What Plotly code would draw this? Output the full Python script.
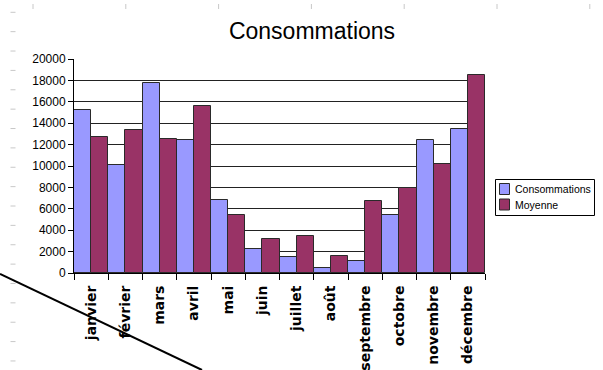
import plotly.graph_objects as go

# Monthly data
mois = ["janvier", "février", "mars", "avril", "mai", "juin", "juillet",
        "août", "septembre", "octobre", "novembre", "décembre"]
consommations = [15200, 10100, 17800, 12400, 6800, 2200, 1450, 500, 1150, 5400, 12450, 13500]
moyenne = [12750, 13400, 12550, 15600, 5400, 3200, 3500, 1550, 6750, 7950, 10200, 18500]
y_ticks = [0, 2000, 4000, 6000, 8000, 10000, 12000, 14000, 16000, 18000, 20000]

series_names = ["Consommations", "Moyenne"]
series_colors = ["#9999FF", "#993366"]
outline = "#2a2a2a"

W, H = 603, 370
ML, MR, MT, MB = 74, 118, 59, 97
PW, PH = W - ML - MR, H - MT - MB


def px(x):
    return (x - ML) / PW


def py(y):
    return (H - MB - y) / PH


fig = go.Figure()
for name, vals, col in zip(series_names, [consommations, moyenne], series_colors):
    fig.add_bar(x=mois, y=vals, name=name,
                marker=dict(color=col, line=dict(color=outline, width=1)))

# sheet decorations: ruler marks and a diagonal drawn line
shapes = []
for k in range(19):
    yy = 12.3 + 19.37 * k
    shapes.append(dict(type="line", xref="paper", yref="paper",
                       x0=px(10.5), x1=px(15.5), y0=py(yy), y1=py(yy),
                       line=dict(color="#c8c8c8", width=1)))
for k in range(7):
    xx = 33 + 92.8 * k
    shapes.append(dict(type="line", xref="paper", yref="paper",
                       x0=px(xx), x1=px(xx), y0=py(4), y1=py(9),
                       line=dict(color="#c8c8c8", width=1)))
shapes.append(dict(type="line", xref="paper", yref="paper", layer="above",
                   x0=px(0), y0=py(274), x1=px(202), y1=py(370),
                   line=dict(color="#000000", width=2)))

# legend box drawn beside the plot
annotations = []
shapes.append(dict(type="rect", xref="paper", yref="paper",
                   x0=px(495.5), x1=px(594.5), y0=py(179.5), y1=py(215.5),
                   line=dict(color="black", width=1), fillcolor="white"))
for i, (name, col) in enumerate(zip(series_names, series_colors)):
    top = 183.5 + 15.5 * i
    shapes.append(dict(type="rect", xref="paper", yref="paper",
                       x0=px(499.5), x1=px(509.5), y0=py(top), y1=py(top + 11),
                       line=dict(color=outline, width=1), fillcolor=col))
    annotations.append(dict(text=name, xref="paper", yref="paper",
                            x=px(513), y=py(top + 5.5), xanchor="left", yanchor="middle",
                            showarrow=False,
                            font=dict(family="Liberation Sans, Arial", size=10.5, color="black")))

fig.update_layout(
    width=W, height=H,
    margin=dict(l=ML, r=MR, t=MT, b=MB, pad=0, autoexpand=False),
    paper_bgcolor="white", plot_bgcolor="white",
    barmode="group", bargap=0, bargroupgap=0,
    title=dict(text="Consommations", x=312 / W, xanchor="center",
               y=1 - 31 / H, yanchor="middle", xref="container", yref="container",
               font=dict(family="Liberation Sans, Arial", size=23, color="black")),
    showlegend=False,
    shapes=shapes,
    annotations=annotations,
    xaxis=dict(type="category", showline=True, linecolor="black", linewidth=1,
               ticks="outside", tickson="boundaries", ticklen=6, tickcolor="black",
               tickangle=-90, showgrid=False, automargin=False, ticklabelstandoff=6,
               tickfont=dict(family="DejaVu Sans", size=14, color="black", weight="bold")),
    yaxis=dict(range=[0, 20000], tickvals=y_ticks, ticktext=[str(v) for v in y_ticks],
               showline=True, linecolor="black", automargin=False,
               linewidth=1, ticks="outside", ticklen=5, tickcolor="black",
               showgrid=True, gridcolor="#222222", gridwidth=1, zeroline=False,
               tickfont=dict(family="Liberation Sans, Arial", size=12, color="black")),
)

fig.write_html("out.html")
